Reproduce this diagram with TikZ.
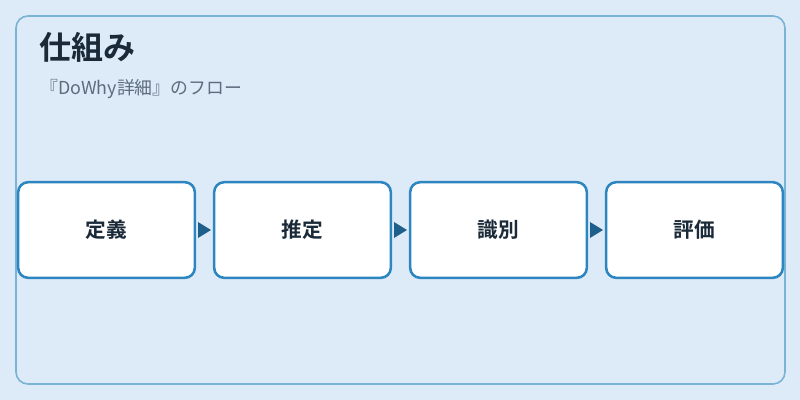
\documentclass[tikz,border=0pt]{standalone}
\usepackage{fontspec}
\usetikzlibrary{calc}
\newfontfamily\jpfont{Noto Sans CJK JP}
\newfontfamily\jpbold{Noto Sans CJK JP Bold}
\definecolor{bgfill}{HTML}{DCEBF7}
\definecolor{outerline}{HTML}{7AB3D6}
\definecolor{boxline}{HTML}{2E86C1}
\definecolor{arrowc}{HTML}{1F5F8B}
\definecolor{titlec}{HTML}{1B2A38}
\definecolor{subc}{HTML}{5D6D7E}
\begin{document}
\begin{tikzpicture}[x=0.75pt,y=-0.75pt,
  stepbox/.style={draw=boxline,line width=1.9pt,fill=white,rounded corners=7.5pt,minimum width=132.5pt,minimum height=71.7pt,inner sep=0pt,font=\jpbold\fontsize{15.5pt}{18pt}\selectfont,text=titlec}]
\useasboundingbox (0,0) rectangle (800,400);
\fill[bgfill] (0,0) rectangle (800,400);
\draw[outerline,line width=1.2pt,rounded corners=9pt] (16,16) rectangle (785,384);
\node[anchor=west,text=titlec,font=\jpbold\fontsize{24pt}{28pt}\selectfont,inner sep=0pt] (title) at (39,47) {仕組み};
\node[anchor=west,text=subc,font=\jpfont\fontsize{13.4pt}{15pt}\selectfont,inner sep=0pt] (sub) at (40,89.5) {『DoWhy詳細』のフロー};
\node[stepbox] (s1) at (106.5,230) {\raisebox{-1pt}{定義}};
\node[stepbox] (s2) at (302.5,230) {\raisebox{-1pt}{推定}};
\node[stepbox] (s3) at (498.5,230) {\raisebox{-1pt}{識別}};
\node[stepbox] (s4) at (694.5,230) {\raisebox{-1pt}{評価}};
\foreach \a/\b in {s1/s2,s2/s3,s3/s4}{
  \path (\a.east) -- (\b.west) coordinate[pos=0.5] (m);
  \fill[arrowc] ($(m)+(-6.5,-8)$) -- ($(m)+(6.5,0)$) -- ($(m)+(-6.5,8)$) -- cycle;
}
\end{tikzpicture}
\end{document}
